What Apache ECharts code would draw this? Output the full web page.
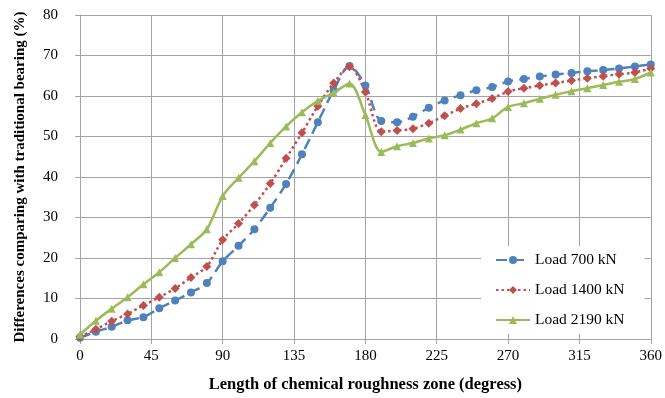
<!DOCTYPE html>
<html>
<head>
<meta charset="utf-8">
<script src="https://cdn.jsdelivr.net/npm/echarts@6/dist/echarts.min.js"></script>
<style>
  html, body { margin: 0; padding: 0; background: #fff; }
  #chart { width: 665px; height: 398px; }
</style>
</head>
<body>
<div id="chart"></div>
<script>
const degrees = [0, 10, 20, 30, 40, 50, 60, 70, 80, 90, 100, 110, 120, 130, 140, 150, 160, 170, 180,
  190, 200, 210, 220, 230, 240, 250, 260, 270, 280, 290, 300, 310, 320, 330, 340, 350, 360];

const load700 = [0.3, 1.8, 3.0, 4.6, 5.4, 7.6, 9.5, 11.5, 13.8, 19.2, 23.0, 27.1, 32.4, 38.3, 45.6, 53.5, 61.4, 67.4, 62.6,
  53.8, 53.5, 54.9, 57.1, 58.9, 60.2, 61.4, 62.2, 63.6, 64.2, 64.8, 65.3, 65.7, 66.1, 66.4, 66.8, 67.3, 67.8];

const load1400 = [0.6, 2.4, 4.4, 6.2, 8.3, 10.3, 12.5, 15.2, 17.9, 24.5, 28.5, 33.1, 38.4, 44.6, 50.9, 57.5, 63.2, 67.2, 61.0,
  51.2, 51.5, 51.9, 53.3, 55.1, 56.9, 58.1, 59.4, 61.1, 61.9, 62.6, 63.2, 63.8, 64.4, 64.9, 65.4, 65.8, 66.8];

const load2190 = [1.1, 4.5, 7.5, 10.3, 13.5, 16.5, 20.0, 23.4, 27.1, 35.3, 39.8, 43.9, 48.4, 52.5, 56.0, 58.8, 60.8, 63.1, 55.3,
  46.2, 47.6, 48.4, 49.5, 50.3, 51.7, 53.3, 54.5, 57.3, 58.2, 59.3, 60.3, 61.2, 61.9, 62.7, 63.5, 64.2, 65.8];

const seriesNames = ['Load 700 kN', 'Load 1400 kN', 'Load 2190 kN'];

const pairs = (ys) => degrees.map((d, i) => [d, ys[i]]);

const chart = echarts.init(document.getElementById('chart'));
const font = '"Liberation Serif", "Times New Roman", serif';
const gridColor = '#a3a3a3';

chart.setOption({
  animation: false,
  textStyle: { fontFamily: font },
  grid: { left: 80, right: 14, top: 15, bottom: 54 },
  legend: {
    orient: 'vertical',
    left: 481,
    top: 246,
    backgroundColor: '#fff',
    padding: [6, 20, 6, 14],
    itemWidth: 34,
    itemHeight: 10,
    itemGap: 14,
    textStyle: { fontFamily: font, fontSize: 15.5, color: '#000' },
    data: seriesNames,
  },
  xAxis: {
    type: 'value',
    min: 0,
    max: 360,
    interval: 45,
    name: 'Length of chemical roughness zone (degress)',
    nameLocation: 'middle',
    nameGap: 37,
    nameTextStyle: { fontFamily: font, fontSize: 16.5, fontWeight: 'bold', color: '#000' },
    axisLine: { lineStyle: { color: gridColor } },
    axisTick: { show: true, inside: false, length: 5, lineStyle: { color: gridColor } },
    axisLabel: { color: '#000', fontSize: 15, fontFamily: font, margin: 10 },
    splitLine: { show: true, lineStyle: { color: gridColor } },
  },
  yAxis: {
    type: 'value',
    min: 0,
    max: 80,
    interval: 10,
    name: 'Differences comparing with traditional bearing (%)',
    nameLocation: 'middle',
    nameGap: 52,
    nameTextStyle: { fontFamily: font, fontSize: 15, fontWeight: 'bold', color: '#000' },
    axisLine: { show: true, lineStyle: { color: gridColor } },
    axisTick: { show: true, length: 5, lineStyle: { color: gridColor } },
    axisLabel: { color: '#000', fontSize: 15, fontFamily: font, margin: 22 },
    splitLine: { show: true, lineStyle: { color: gridColor } },
  },
  series: [
    {
      name: seriesNames[0],
      type: 'line',
      data: pairs(load700),
      smooth: 0.3,
      symbol: 'circle',
      symbolSize: 8,
      itemStyle: { color: '#4F81BD' },
      lineStyle: { color: '#4F81BD', width: 2.5, type: [11, 6] },
      z: 3,
    },
    {
      name: seriesNames[1],
      type: 'line',
      data: pairs(load1400),
      smooth: 0.3,
      symbol: 'diamond',
      symbolSize: 9,
      itemStyle: { color: '#C0504D' },
      lineStyle: { color: '#C0504D', width: 2.5, type: [2.5, 3] },
      z: 4,
    },
    {
      name: seriesNames[2],
      type: 'line',
      data: pairs(load2190),
      smooth: 0.3,
      symbol: 'triangle',
      symbolSize: 8,
      itemStyle: { color: '#9BBB59' },
      lineStyle: { color: '#9BBB59', width: 2.5 },
      z: 5,
    },
  ],
});
</script>
</body>
</html>
